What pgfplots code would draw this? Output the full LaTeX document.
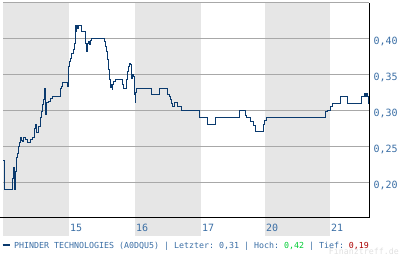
\documentclass[border=0pt]{standalone}
\usepackage{fontspec}
\setmonofont{DejaVu Sans Mono}
\usepackage{pgfplots}
\pgfplotsset{compat=1.18}
\definecolor{lineblue}{HTML}{0A3A6E}
\definecolor{lblblue}{HTML}{3A6EA5}
\definecolor{bandgray}{HTML}{E6E6E6}
\definecolor{gridgray}{HTML}{A8A8A8}
\definecolor{hochgreen}{HTML}{00CC33}
\definecolor{tiefred}{HTML}{AA0000}
\definecolor{wmgray}{HTML}{E0E0E0}
\begin{document}
\begin{tikzpicture}[x=1bp,y=1bp]
\begin{axis}[at={(3bp,40bp)}, anchor=south west, scale only axis,
  width=366bp, height=215bp,
  xmin=3, xmax=369, ymin=0.15, ymax=0.45,
  set layers, clip=false,
  axis line style={draw=none},
  xtick={69,135,201,265,330}, xticklabels={15,16,17,20,21},
  ytick={0.20,0.25,0.30,0.35,0.40,0.45},
  yticklabels={{0,20},{0,25},{0,30},{0,35},{0,40},{}},
  ymajorgrids, major grid style={gridgray, line width=1bp},
  major tick length=0pt,
  yticklabel pos=right,
  tick label style={font=\ttfamily\fontsize{10bp}{10bp}\selectfont, text=lblblue, inner sep=0pt},
  xticklabel style={anchor=base west, xshift=0.8bp, yshift=-13.7bp},
  yticklabel style={anchor=base west, xshift=4.3bp, yshift=-6bp},
]
\begin{pgfonlayer}{axis background}
\fill[bandgray] (axis cs:3,0.125) rectangle (axis cs:69,0.45);
\fill[bandgray] (axis cs:135,0.125) rectangle (axis cs:201,0.45);
\fill[bandgray] (axis cs:265,0.125) rectangle (axis cs:330,0.45);
\end{pgfonlayer}
\addplot[const plot, lineblue, line width=1bp] coordinates {
(3,0.23) (4,0.19) (12.3,0.205) (13.3,0.22) (14,0.19) (15.7,0.215) (16.3,0.235) (17.7,0.24) (18,0.25) (19.7,0.255) (20,0.262) (21,0.258) (22,0.257) (23,0.262) (25,0.259) (27.3,0.255) (30,0.259) (32.7,0.262) (34,0.275) (35,0.28) (36.3,0.269) (38.7,0.277) (40,0.29) (41,0.298) (42,0.308) (43,0.316) (44,0.33) (45.5,0.294) (46.5,0.311) (48,0.313) (50,0.317) (52.7,0.32) (60,0.33) (61,0.333) (62,0.339) (67,0.333) (68,0.361) (69,0.368) (70,0.373) (71,0.38) (73,0.385) (74.5,0.394) (75,0.419) (76,0.41) (76.5,0.419) (77,0.415) (78,0.419) (81,0.415) (81.7,0.41) (85,0.394) (86,0.382) (87,0.394) (88,0.396) (89,0.392) (90,0.398) (91,0.40) (104,0.396) (105,0.389) (106,0.382) (107,0.371) (108,0.357) (109,0.343) (110,0.334) (110.5,0.332) (111,0.336) (112,0.329) (112.5,0.336) (113,0.34) (115,0.343) (122,0.336) (123,0.33) (126,0.343) (127,0.354) (128,0.361) (129,0.366) (130,0.364) (131,0.345) (132,0.35) (133,0.347) (134.3,0.322) (135,0.311) (135.5,0.325) (136,0.326) (136.7,0.331) (151,0.323) (159,0.33) (167,0.322) (169,0.319) (170,0.315) (171.5,0.31) (172.5,0.306) (174,0.311) (177,0.306) (181,0.30) (199,0.29) (207.3,0.28) (215,0.29) (239,0.30) (245,0.293) (246.7,0.29) (250,0.285) (253,0.279) (255,0.271) (263.3,0.28) (264.7,0.286) (266,0.29) (325,0.298) (327,0.30) (330,0.305) (332,0.31) (340,0.319) (347.3,0.31) (361,0.319) (364,0.324) (365,0.319) (366,0.324) (367,0.319) (368,0.31) (369,0.31)
};
\draw[black, line width=1bp] (axis cs:0,0.15) -- (axis cs:369,0.15) -- (axis cs:369,0.45);
\end{axis}
\draw[lineblue, line width=2bp] (2.7,13) -- (10,13);
\node[anchor=base west, inner sep=0pt, text=lblblue, font=\ttfamily\fontsize{8.3bp}{8.3bp}\selectfont] at (14,10)
  {PHINDER TECHNOLOGIES (A0DQU5) | Letzter: 0,31 | Hoch: \textcolor{hochgreen}{0,42} | Tief: \textcolor{tiefred}{0,19}};
\node[anchor=base east, inner sep=0pt, text=wmgray, font=\ttfamily\fontsize{8.3bp}{8.3bp}\selectfont] at (399,3.5) {Finanztreff.de};
\pgfresetboundingbox
\path (0,0) rectangle (400,258);
\end{tikzpicture}
\end{document}
